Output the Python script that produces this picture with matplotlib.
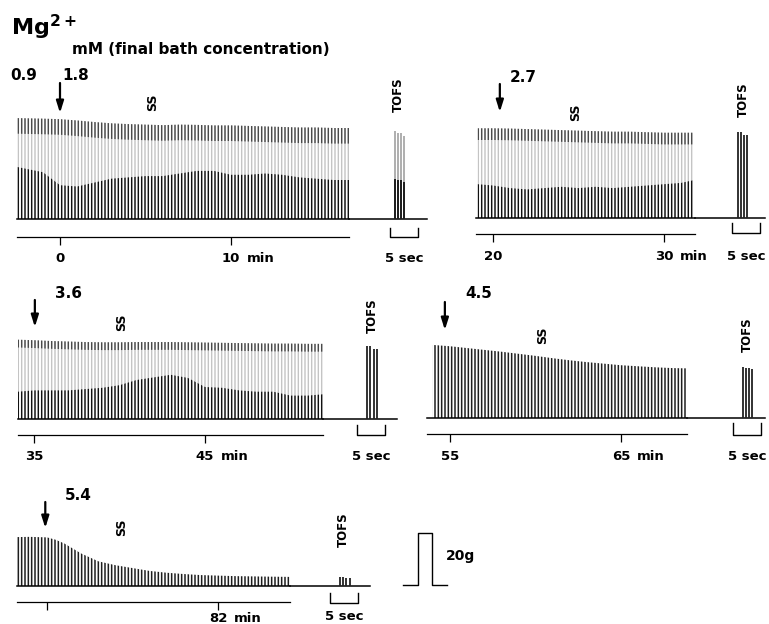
import matplotlib.pyplot as plt

plt.rcParams['font.family'] = ['DejaVu Sans']
plt.rcParams['font.weight'] = 'bold'
plt.rcParams['hatch.linewidth'] = 1.0

W, H = 769, 624
PX_MIN = 17.1   # px per minute on the slow records
PX_G = 2.6      # px per gram (20 g calibration = 52 px)
PX_SEC = 5.6    # px per second on the TOFS strips
YMAX = 45

# --- data: twitch tension envelope (g) vs time (min)
t1 = [-2.5, -1, 0, 1, 2, 3, 4, 5, 6, 7, 8, 9, 10, 11, 12, 13, 14, 15, 16, 16.9]
env1 = [38.8, 38.6, 38.4, 37.9, 37.3, 36.8, 36.5, 36.3, 36.1, 36.3, 36.2, 36.0,
        36.0, 35.8, 35.6, 35.4, 35.2, 35.2, 35.0, 35.0]
dark1 = [20, 18, 13, 12.5, 14, 15.5, 16, 16.5, 16.5, 17.5, 18.5, 18.5, 17, 17,
         17.5, 17, 16, 15.5, 15, 15]

t2 = [19.1, 20, 21, 22, 23, 24, 25, 26, 27, 28, 29, 30, 31, 31.7]
env2 = [34.5, 34.5, 34.4, 34.2, 34.0, 33.8, 33.6, 33.4, 33.2, 33.2, 33.0, 32.8,
        32.8, 32.8]
dark2 = [13, 12.5, 11.5, 11, 11.5, 12, 11.5, 12, 11.5, 12, 12.5, 13, 13.5, 14.5]

t3 = [34.06, 35, 36, 37, 38, 39, 40, 41, 42, 43, 44, 45, 46, 47, 48, 49, 50, 51, 51.9]
env3 = [30.5, 30.3, 30.0, 29.8, 29.6, 29.5, 29.5, 29.6, 29.6, 29.6, 29.5, 29.4,
        29.3, 29.2, 29.1, 29.0, 29.0, 28.9, 28.9]
dark3 = [10.5, 11, 11, 11, 11.5, 12, 13, 15, 16, 17, 15.8, 12.3, 12, 11, 10.5,
         10.5, 9, 9, 9.5]

t4 = [54.0, 55, 56, 57, 58, 59, 60, 61, 62, 63, 64, 65, 66, 67, 68, 68.8]
env4 = [28.1, 27.6, 26.9, 26.2, 25.5, 24.7, 23.9, 23.0, 22.2, 21.5, 20.9, 20.3,
        19.9, 19.5, 19.2, 19.1]

t5 = [70.1, 71, 72, 72.5, 73, 74, 75, 76, 77, 78, 79, 80, 81, 82, 83, 84, 85, 86.2]
env5 = [18.8, 18.9, 18.7, 17.8, 16.4, 12.5, 9.5, 8.0, 6.9, 5.8, 5.1, 4.6, 4.2,
        4.0, 3.8, 3.7, 3.6, 3.5]

# train-of-four (TOFS) responses: time after bracket start (s), tension (g)
tof_t = [[0.9, 1.4, 1.9, 2.5], [1.1, 1.6, 2.1, 2.6], [1.8, 2.4, 3.0, 3.6],
         [1.8, 2.3, 2.8, 3.4], [1.8, 2.4, 2.9, 3.5]]
tof_g = [[34, 33, 33, 32], [33, 33, 32, 32], [28, 28, 27, 27],
         [19.6, 19.4, 19.2, 19.0], [3.5, 3.3, 3.0, 2.9]]

conc = ["1.8", "2.7", "3.6", "4.5", "5.4"]
arrow_t = [0, 20.4, 35.05, 54.7, 71.9]
axis_span = [(-2.5, 16.9), (19.0, 31.8), (34.06, 51.9), (53.66, 68.84), (70.25, 86.2)]
ticks = [[0, 10], [20, 30], [35, 45], [55, 65], [72, 82]]
tick_labels = [["0", "10"], ["20", "30"], ["35", "45"], ["55", "65"], [None, "82"]]
calib_g = 20

records = [(t1, env1, dark1), (t2, env2, dark2), (t3, env3, dark3),
           (t4, env4, None), (t5, env5, None)]

# --- layout (pixels of the 769x624 page)
anchor = [(0, 60), (20, 493), (35, 34), (55, 450), (82, 218)]  # (tick value, x px)
base_y = [219, 218, 419, 418, 586]
axis_off = [18, 16, 16, 16, 16]
label_off = [39, 39, 38, 39, 32]
bracket_x = [390, 732, 357, 733, 330]
base_end = [427, 765, 397, 765, 370]
bracket_y = [(9, 18), (5, 15), (6, 16), (5, 17), (7, 17)]
sec_off = [39, 39, 38, 39, 31]
arrow_px = [(106, 136), (106, 134), (92, 119), (88, 116), (58, 84)]
conc_px = [(62, 76), (510, 77), (55, 293), (465, 293), (65, 495)]
ss_px = [(153, 102), (576, 112), (122, 322), (543, 335), (122, 527)]
tofs_px = [(398, 95), (743, 100), (372, 316), (747, 335), (343, 530)]
band_g = [6, 4.5, 3, 0, 0]


def add_px_axes(x0, x1, ybase):
    top = ybase - YMAX * PX_G
    ax = fig.add_axes([x0 / W, 1 - ybase / H, (x1 - x0) / W, (ybase - top) / H])
    ax.set_facecolor('none')
    for s in ['left', 'right', 'top']:
        ax.spines[s].set_visible(False)
    ax.set_yticks([])
    ax.set_ylim(0, YMAX)
    return ax


def hatch_fill(ax, t, lo, hi, color, face='none'):
    ax.fill_between(t, lo, hi, facecolor=face, edgecolor=color, hatch='|||||',
                    linewidth=0)


fig = plt.figure(figsize=(W / 100, H / 100), dpi=100)

for i, (t, env, dark) in enumerate(records):
    a0, a1 = axis_span[i]
    tv, tx = anchor[i]
    x0 = tx + (a0 - tv) * PX_MIN
    x1 = tx + (a1 - tv) * PX_MIN
    yb = base_y[i]

    ax = add_px_axes(x0, x1, yb)
    ax.set_xlim(a0, a1)

    if dark is not None:
        hatch_fill(ax, t, 0, env, '#c4c4c4')
        top_band = [v - band_g[i] for v in env]
        hatch_fill(ax, t, top_band, env, '#4a4a4a')
        hatch_fill(ax, t, 0, dark, '#111111')
    else:
        with plt.rc_context({'hatch.linewidth': 1.1}):
            hatch_fill(ax, t, 0, env, '#1e1e1e')

    ax.plot([a0, a1], [0, 0], color='black', lw=1.1, clip_on=False)

    # time axis
    ax.spines['bottom'].set_position(('outward', axis_off[i] * 0.72))
    ax.spines['bottom'].set_linewidth(0.9)
    ax.set_xticks(ticks[i])
    ax.tick_params(axis='x', direction='out', length=8 * 0.72, width=0.9,
                   labelbottom=False)
    for tk, lab in zip(ticks[i], tick_labels[i]):
        if lab is None:
            continue
        ax.annotate(lab, xy=(tk, 0), xycoords=('data', 'axes fraction'),
                    xytext=(0, -label_off[i]), textcoords='offset pixels',
                    ha='center', va='center', fontsize=9.5, annotation_clip=False)
    last = ticks[i][-1]
    ax.annotate("min", xy=(last, 0), xycoords=('data', 'axes fraction'),
                xytext=(16, -label_off[i]), textcoords='offset pixels',
                ha='left', va='center', fontsize=9.5, annotation_clip=False)

    # arrow marking Mg2+ addition
    tip, tail = arrow_px[i]
    ax.annotate('', xy=(arrow_t[i], tip / PX_G), xytext=(arrow_t[i], tail / PX_G),
                arrowprops=dict(arrowstyle='-|>,head_length=0.7,head_width=0.22',
                                lw=1.6, color='black', shrinkA=0, shrinkB=0),
                annotation_clip=False)

    # TOFS strip
    bx = bracket_x[i]
    tax = add_px_axes(x1, base_end[i], yb)
    tax.set_xlim((x1 - bx) / PX_SEC, (base_end[i] - bx) / PX_SEC)
    tax.spines['bottom'].set_visible(False)
    tax.set_xticks([])
    tax.plot(tax.get_xlim(), [0, 0], color='black', lw=1.1, clip_on=False)
    if i == 0:
        tax.vlines(tof_t[i], 0, tof_g[i], color='#a8a8a8', lw=1.3)
        tax.vlines(tof_t[i], 0, [v * 0.45 for v in tof_g[i]], color='#111111', lw=1.3)
    else:
        tax.vlines(tof_t[i], 0, tof_g[i], color='#222222', lw=1.3)
    by0, by1 = bracket_y[i]
    tax.plot([0, 0, 5, 5], [-by0 / PX_G, -by1 / PX_G, -by1 / PX_G, -by0 / PX_G],
             color='black', lw=1.0, clip_on=False)
    tax.annotate("5 sec", xy=(2.5, 0), xycoords=('data', 'axes fraction'),
                 xytext=(0, -sec_off[i]), textcoords='offset pixels',
                 ha='center', va='center', fontsize=9.5, annotation_clip=False)

    # labels
    cx, cy = conc_px[i]
    fig.text(cx / W, 1 - cy / H, conc[i], fontsize=11, ha='left', va='center')
    sx, sy = ss_px[i]
    fig.text(sx / W, 1 - sy / H, "SS", fontsize=9, rotation=90,
             ha='center', va='center')
    ox, oy = tofs_px[i]
    fig.text(ox / W, 1 - oy / H, "TOFS", fontsize=8.5, rotation=90,
             ha='center', va='center')

fig.text(10 / W, 1 - 76 / H, "0.9", fontsize=11, ha='left', va='center')
fig.text(11 / W, 1 - 35 / H, r"$\mathbf{Mg^{2+}}$", fontsize=16, ha='left',
         va='baseline')
fig.text(72 / W, 1 - 50 / H, "mM (final bath concentration)", fontsize=11,
         ha='left', va='center')

# 20 g calibration pulse
cax = add_px_axes(403, 447, 585)
cax.spines['bottom'].set_visible(False)
cax.set_xticks([])
cax.set_xlim(0, 1)
cax.plot([0, 0.34, 0.34, 0.66, 0.66, 1], [0, 0, calib_g, calib_g, 0, 0],
         color='black', lw=1.0, clip_on=False)
fig.text(446 / W, 1 - 556 / H, f"{calib_g}g", fontsize=10, ha='left', va='center')

fig.savefig('out.png', dpi=100)
